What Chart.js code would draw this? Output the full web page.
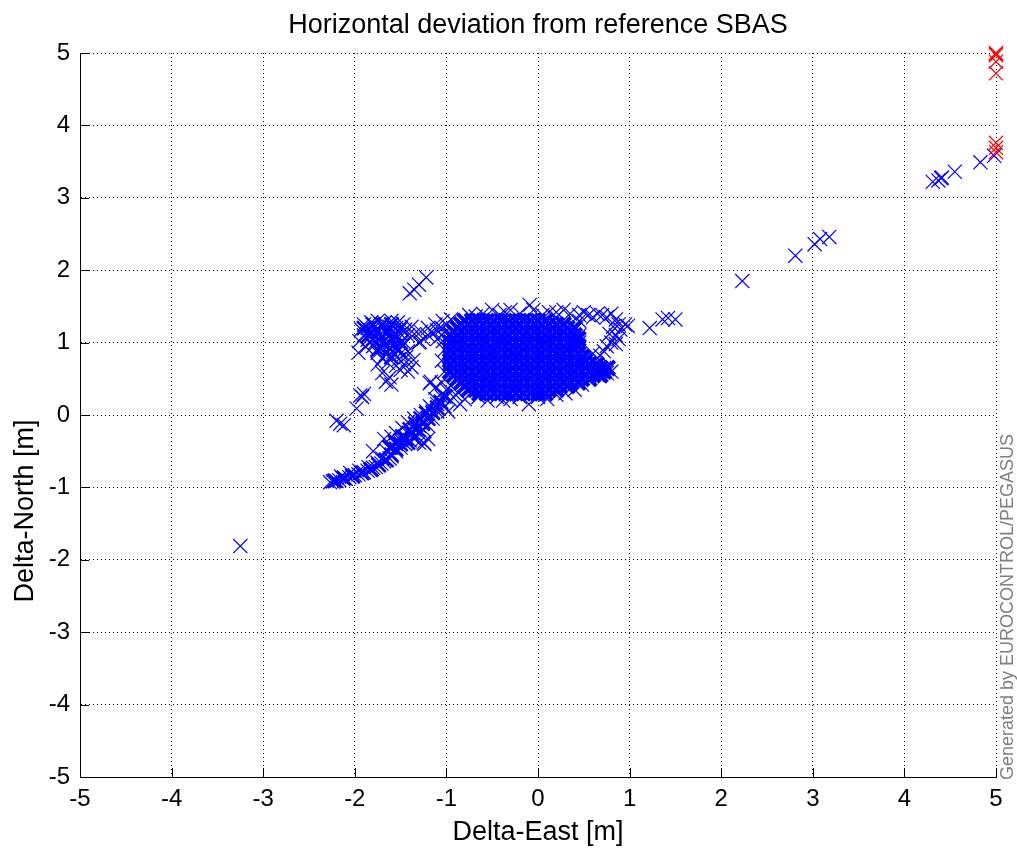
<!DOCTYPE html>
<html>
<head>
<meta charset="utf-8">
<script src="https://cdn.jsdelivr.net/npm/chart.js@4"></script>
<style>
  html, body { margin: 0; padding: 0; background: #fff; }
  #wrap { width: 1017px; height: 850px; }
</style>
</head>
<body>
<div id="wrap"><canvas id="sbasChart" width="1017" height="850"></canvas></div>
<script>
// axis ticks
const tickValues = [-5, -4, -3, -2, -1, 0, 1, 2, 3, 4, 5];

// dense core of the cloud, one row of Delta-East values per Delta-North level
const coreRowY = [1.30, 1.25, 1.20, 1.15, 1.10, 1.05, 1.00, 0.95, 0.90, 0.85, 0.80,
                  0.75, 0.70, 0.65, 0.60, 0.55, 0.50, 0.45, 0.40, 0.35, 0.30];
const coreRowX = [
  [-0.8, -0.72, -0.64, -0.56, -0.48, -0.4, -0.32, -0.24, -0.16, -0.08, 0, 0.08],
  [-0.84, -0.76, -0.68, -0.6, -0.52, -0.44, -0.36, -0.28, -0.2, -0.12, -0.04, 0.04, 0.12, 0.2, 0.28],
  [-0.88, -0.8, -0.72, -0.64, -0.56, -0.48, -0.4, -0.32, -0.24, -0.16, -0.08, 0, 0.08, 0.16, 0.24, 0.32, 0.4],
  [-0.92, -0.84, -0.76, -0.68, -0.6, -0.52, -0.44, -0.36, -0.28, -0.2, -0.12, -0.04, 0.04, 0.12, 0.2, 0.28, 0.36],
  [-0.96, -0.88, -0.8, -0.72, -0.64, -0.56, -0.48, -0.4, -0.32, -0.24, -0.16, -0.08, 0, 0.08, 0.16, 0.24, 0.32, 0.4],
  [-0.92, -0.84, -0.76, -0.68, -0.6, -0.52, -0.44, -0.36, -0.28, -0.2, -0.12, -0.04, 0.04, 0.12, 0.2, 0.28, 0.36, 0.44],
  [-0.96, -0.88, -0.8, -0.72, -0.64, -0.56, -0.48, -0.4, -0.32, -0.24, -0.16, -0.08, 0, 0.08, 0.16, 0.24, 0.32, 0.4],
  [-0.92, -0.84, -0.76, -0.68, -0.6, -0.52, -0.44, -0.36, -0.28, -0.2, -0.12, -0.04, 0.04, 0.12, 0.2, 0.28, 0.36, 0.44],
  [-0.96, -0.88, -0.8, -0.72, -0.64, -0.56, -0.48, -0.4, -0.32, -0.24, -0.16, -0.08, 0, 0.08, 0.16, 0.24, 0.32, 0.4],
  [-0.92, -0.84, -0.76, -0.68, -0.6, -0.52, -0.44, -0.36, -0.28, -0.2, -0.12, -0.04, 0.04, 0.12, 0.2, 0.28, 0.36, 0.44],
  [-0.96, -0.88, -0.8, -0.72, -0.64, -0.56, -0.48, -0.4, -0.32, -0.24, -0.16, -0.08, 0, 0.08, 0.16, 0.24, 0.32, 0.4, 0.48],
  [-0.92, -0.84, -0.76, -0.68, -0.6, -0.52, -0.44, -0.36, -0.28, -0.2, -0.12, -0.04, 0.04, 0.12, 0.2, 0.28, 0.36, 0.44, 0.52],
  [-0.96, -0.88, -0.8, -0.72, -0.64, -0.56, -0.48, -0.4, -0.32, -0.24, -0.16, -0.08, 0, 0.08, 0.16, 0.24, 0.32, 0.4, 0.48, 0.56, 0.64],
  [-0.92, -0.84, -0.76, -0.68, -0.6, -0.52, -0.44, -0.36, -0.28, -0.2, -0.12, -0.04, 0.04, 0.12, 0.2, 0.28, 0.36, 0.44, 0.52, 0.6, 0.68, 0.76],
  [-0.96, -0.88, -0.8, -0.72, -0.64, -0.56, -0.48, -0.4, -0.32, -0.24, -0.16, -0.08, 0, 0.08, 0.16, 0.24, 0.32, 0.4, 0.48, 0.56, 0.64, 0.72],
  [-0.92, -0.84, -0.76, -0.68, -0.6, -0.52, -0.44, -0.36, -0.28, -0.2, -0.12, -0.04, 0.04, 0.12, 0.2, 0.28, 0.36, 0.44, 0.52, 0.6, 0.68],
  [-0.88, -0.8, -0.72, -0.64, -0.56, -0.48, -0.4, -0.32, -0.24, -0.16, -0.08, 0, 0.08, 0.16, 0.24, 0.32, 0.4, 0.48, 0.56],
  [-0.84, -0.76, -0.68, -0.6, -0.52, -0.44, -0.36, -0.28, -0.2, -0.12, -0.04, 0.04, 0.12, 0.2, 0.28, 0.36, 0.44],
  [-0.8, -0.72, -0.64, -0.56, -0.48, -0.4, -0.32, -0.24, -0.16, -0.08, 0, 0.08, 0.16, 0.24, 0.32],
  [-0.76, -0.68, -0.6, -0.52, -0.44, -0.36, -0.28, -0.2, -0.12, -0.04, 0.04, 0.12, 0.2],
  [-0.64, -0.56, -0.48, -0.4, -0.32, -0.24, -0.16, -0.08, 0, 0.08]
];

// thick parts of the tail and of the upper-left cluster
const denseTail = [
  [-2.22, -0.91], [-2.12, -0.87], [-2.02, -0.84], [-1.92, -0.8], [-1.82, -0.75], [-1.74, -0.69],
  [-1.66, -0.62], [-1.6, -0.55], [-1.55, -0.47], [-1.5, -0.4], [-1.44, -0.33], [-1.38, -0.26],
  [-1.32, -0.19], [-1.26, -0.12], [-1.2, -0.05], [-1.15, 0.03], [-1.1, 0.1], [-1.06, 0.18],
  [-1.02, 0.26], [-1.48, -0.3], [-1.4, -0.2], [-1.34, -0.12], [-1.56, -0.38], [-1.28, -0.05],
  [-1.22, 0.02], [-1.62, -0.45], [-1.42, -0.38], [-1.35, -0.32]
];
const denseUpperLeft = [
  [-1.9, 1.2], [-1.8, 1.25], [-1.7, 1.25], [-1.6, 1.25], [-1.5, 1.2], [-1.85, 1.1], [-1.75, 1.15],
  [-1.65, 1.15], [-1.55, 1.1], [-1.8, 1.05], [-1.7, 1.0], [-1.6, 1.05], [-1.5, 1.0], [-1.75, 0.9],
  [-1.62, 0.92], [-1.52, 0.9], [-1.6, 0.8]
];

// loose crosses round the core
const blobEdge = [
  [-0.75, 1.38], [-0.6, 1.4], [-0.5, 1.45], [-0.42, 1.38], [-0.3, 1.45], [-0.2, 1.4], [-0.09, 1.52],
  [-0.05, 1.45], [0.05, 1.38], [0.12, 1.42], [0.2, 1.35], [-0.68, 1.36], [-0.36, 1.42],
  [-0.8, 0.22], [-0.65, 0.25], [-0.55, 0.2], [-0.45, 0.25], [-0.3, 0.22], [-0.2, 0.25], [-0.1, 0.15],
  [0.0, 0.25], [0.1, 0.22], [0.2, 0.28], [0.3, 0.3], [0.4, 0.35], [0.48, 0.42], [-0.38, 0.2],
  [-0.95, 0.4], [-1.0, 0.35], [-1.05, 0.45], [-1.12, 0.38], [-1.18, 0.44], [-1.17, 0.46],
  [-0.9, 0.28], [-0.95, 0.2], [-1.02, 0.12], [-0.98, 0.05], [-0.85, 0.15],
  [-1.02, 0.9], [-1.05, 0.75], [-1.02, 0.6], [-1.04, 1.02]
];

// bridge towards the upper-left cluster
const bridge = [
  [-1.3, 1.0], [-1.29, 1.01], [-1.25, 1.05], [-1.2, 1.1], [-1.15, 1.13], [-1.1, 1.17], [-1.05, 1.2],
  [-1.0, 1.25], [-1.28, 1.15], [-1.2, 1.2], [-1.12, 1.25], [-1.35, 1.12], [-1.05, 1.1], [-1.1, 1.05],
  [-0.95, 1.32], [-1.04, 1.3]
];

const upperLeft = [
  [-1.9, 1.25], [-1.82, 1.28], [-1.75, 1.3], [-1.68, 1.27], [-1.6, 1.3], [-1.53, 1.28], [-1.47, 1.25],
  [-1.93, 1.18], [-1.86, 1.2], [-1.78, 1.22], [-1.7, 1.2], [-1.62, 1.22], [-1.55, 1.2], [-1.45, 1.18], [-1.38, 1.22],
  [-1.9, 1.1], [-1.82, 1.12], [-1.74, 1.1], [-1.66, 1.13], [-1.58, 1.1], [-1.5, 1.12], [-1.42, 1.1],
  [-1.95, 1.02], [-1.86, 1.04], [-1.78, 1.0], [-1.7, 1.05], [-1.62, 1.0], [-1.54, 1.03], [-1.46, 1.0],
  [-1.88, 0.94], [-1.8, 0.95], [-1.72, 0.92], [-1.64, 0.95], [-1.56, 0.92], [-1.48, 0.95],
  [-1.96, 0.86], [-1.75, 0.86], [-1.66, 0.84], [-1.58, 0.87], [-1.5, 0.85], [-1.42, 0.88],
  [-1.7, 0.78], [-1.6, 0.8], [-1.52, 0.77], [-1.44, 0.8], [-1.36, 0.76],
  [-1.75, 0.7], [-1.64, 0.72], [-1.55, 0.68], [-1.46, 0.7], [-1.38, 0.66],
  [-1.7, 0.58], [-1.62, 0.52], [-1.5, 0.62], [-1.42, 0.6], [-1.6, 0.42], [-1.66, 0.46],
  [-1.4, 1.68], [-1.35, 1.73], [-1.3, 1.8], [-1.22, 1.9]
];

// south-west tail
const tail = [
  [-2.27, -0.93], [-2.24, -0.92], [-2.2, -0.91], [-2.17, -0.9], [-2.13, -0.88], [-2.1, -0.88], [-2.06, -0.86],
  [-2.03, -0.85], [-2.0, -0.83], [-1.96, -0.82], [-1.93, -0.8], [-1.9, -0.79], [-1.86, -0.77], [-1.83, -0.76],
  [-1.8, -0.73], [-1.77, -0.72], [-1.74, -0.69], [-1.71, -0.67], [-1.68, -0.64], [-1.65, -0.62], [-1.62, -0.6],
  [-1.6, -0.57], [-2.15, -0.85], [-2.05, -0.8], [-1.95, -0.77], [-1.85, -0.72], [-1.75, -0.66], [-1.7, -0.6],
  [-1.65, -0.5], [-1.6, -0.45], [-1.55, -0.5], [-1.55, -0.4], [-1.5, -0.45], [-1.5, -0.35], [-1.45, -0.4],
  [-1.45, -0.3], [-1.4, -0.35], [-1.4, -0.25], [-1.35, -0.3], [-1.35, -0.2], [-1.3, -0.25], [-1.3, -0.15],
  [-1.25, -0.2], [-1.25, -0.1], [-1.2, -0.15], [-1.2, -0.05], [-1.15, -0.05], [-1.15, 0.05], [-1.1, 0.05],
  [-1.1, 0.15], [-1.05, 0.15], [-1.05, 0.25], [-1.0, 0.25], [-1.12, 0.22], [-1.18, 0.12],
  [-1.6, -0.3], [-1.68, -0.33], [-1.55, -0.25], [-1.48, -0.18], [-1.42, -0.1], [-1.35, -0.05], [-1.28, 0.0],
  [-1.22, 0.05], [-1.8, -0.5], [-1.25, -0.38], [-1.24, -0.4], [-1.2, -0.33], [-1.3, -0.38],
  [-1.94, 0.27], [-1.9, 0.29], [-1.92, 0.25], [-1.98, 0.09], [-2.2, -0.08], [-2.16, -0.12], [-2.12, -0.14],
  [-3.25, -1.81]
];

// loop and arm on the east side of the cloud
const eastLoop = [
  [0.2, 1.42], [0.28, 1.45], [0.35, 1.4], [0.45, 1.38], [0.5, 1.42], [0.55, 1.38], [0.6, 1.35], [0.65, 1.4],
  [0.7, 1.38], [0.75, 1.35], [0.8, 1.4], [0.85, 1.32], [0.88, 1.25], [0.9, 1.18], [0.85, 1.1], [0.88, 1.05],
  [0.8, 1.0], [0.75, 0.95], [0.85, 0.98], [0.78, 1.12], [0.82, 1.22], [0.95, 1.25], [0.45, 1.3], [0.4, 1.22],
  [0.45, 1.1], [0.45, 1.0], [0.6, 0.85], [0.68, 0.82], [0.72, 0.88], [0.5, 0.78], [0.55, 0.72],
  [0.6, 0.62], [0.68, 0.6], [0.75, 0.58], [0.8, 0.6], [0.72, 0.65], [0.65, 0.55], [0.55, 0.5]
];

// sparse points heading north-east
const northEast = [
  [0.98, 1.23], [1.22, 1.2], [1.36, 1.32], [1.42, 1.34], [1.5, 1.32],
  [2.23, 1.85], [2.81, 2.2], [3.02, 2.36], [3.08, 2.43], [3.18, 2.46],
  [4.31, 3.22], [4.37, 3.24], [4.4, 3.27], [4.41, 3.28], [4.55, 3.36], [4.83, 3.49], [4.98, 3.58]
];

// points saturated at the plot edge (red)
const saturated = [
  [5.0, 5.0], [5.0, 4.99], [5.0, 4.97], [5.0, 4.88], [5.0, 4.72], [5.0, 3.76], [5.0, 3.69], [5.0, 3.63]
];

const BLUE = '#0000ff';
const RED = '#ff0000';

function toPoints(list) {
  return list.map(p => ({ x: p[0], y: p[1] }));
}

const corePoints = [];
coreRowY.forEach((y, i) => {
  coreRowX[i].forEach(x => corePoints.push({ x: x, y: y }));
});
const densePoints = toPoints(denseTail).concat(toPoints(denseUpperLeft));

const looseBlue = toPoints([].concat(blobEdge, bridge, upperLeft, tail, eastLoop, northEast));

function crossSet(data, color, width) {
  return {
    data: data,
    showLine: false,
    pointStyle: 'crossRot',
    pointRadius: 10,
    pointHoverRadius: 10,
    borderColor: color,
    backgroundColor: color,
    borderWidth: width,
    clip: false
  };
}

// MATLAB style: inward tick marks, title, axis labels, watermark
const matlabDecor = {
  id: 'matlabDecor',
  beforeDatasetsDraw(chart) {
    const { ctx, chartArea, scales } = chart;
    ctx.save();
    ctx.strokeStyle = '#000';
    ctx.lineWidth = 1;
    ctx.beginPath();
    tickValues.forEach(v => {
      const px = Math.round(scales.x.getPixelForValue(v)) + 0.5;
      ctx.moveTo(px, chartArea.bottom);
      ctx.lineTo(px, chartArea.bottom - 9);
      const py = Math.round(scales.y.getPixelForValue(v)) + 0.5;
      ctx.moveTo(chartArea.left, py);
      ctx.lineTo(chartArea.left + 9, py);
    });
    ctx.stroke();
    ctx.restore();
  },
  afterDraw(chart) {
    const { ctx, chartArea } = chart;
    const midX = (chartArea.left + chartArea.right) / 2;
    ctx.save();
    ctx.fillStyle = '#000';
    ctx.textAlign = 'center';
    ctx.textBaseline = 'alphabetic';
    ctx.font = '27px "Liberation Sans", Arial, sans-serif';
    ctx.fillText('Horizontal deviation from reference SBAS', midX, 33);
    ctx.fillText('Delta-East [m]', midX, 840);
    ctx.save();
    ctx.translate(33, 511);
    ctx.rotate(-Math.PI / 2);
    ctx.fillText('Delta-North [m]', 0, 0);
    ctx.restore();
    ctx.fillStyle = '#808080';
    ctx.font = '18px "Liberation Sans", Arial, sans-serif';
    ctx.textAlign = 'left';
    ctx.translate(1013, 780);
    ctx.rotate(-Math.PI / 2);
    ctx.fillText('Generated by EUROCONTROL/PEGASUS', 0, 0);
    ctx.restore();
  }
};

const gridDots = {
  color: '#000',
  lineWidth: 1,
  drawTicks: false
};

new Chart(document.getElementById('sbasChart').getContext('2d'), {
  type: 'scatter',
  data: {
    datasets: [
      crossSet(toPoints(saturated), RED, 1.2),
      crossSet(looseBlue, BLUE, 1.2),
      crossSet(densePoints, BLUE, 2.4),
      crossSet(corePoints, BLUE, 4)
    ]
  },
  options: {
    responsive: false,
    animation: false,
    events: [],
    layout: { padding: { top: 53, right: 21, left: 0, bottom: 0 } },
    plugins: {
      legend: { display: false },
      tooltip: { enabled: false },
      title: { display: false }
    },
    scales: {
      x: {
        type: 'linear',
        min: -5,
        max: 5,
        afterFit: s => { s.height = 73; },
        afterBuildTicks: s => { s.ticks = tickValues.map(v => ({ value: v })); },
        grid: gridDots,
        border: { display: true, color: '#000', width: 1, dash: [1, 3] },
        ticks: {
          color: '#000',
          padding: 8,
          maxRotation: 0,
          font: { family: '"Liberation Sans", Arial, sans-serif', size: 24 }
        }
      },
      y: {
        type: 'linear',
        min: -5,
        max: 5,
        afterFit: s => { s.width = 80; },
        afterBuildTicks: s => { s.ticks = tickValues.map(v => ({ value: v })); },
        grid: gridDots,
        border: { display: true, color: '#000', width: 1, dash: [1, 3] },
        ticks: {
          color: '#000',
          padding: 10,
          font: { family: '"Liberation Sans", Arial, sans-serif', size: 24 }
        }
      }
    }
  },
  plugins: [matlabDecor]
});
</script>
</body>
</html>
